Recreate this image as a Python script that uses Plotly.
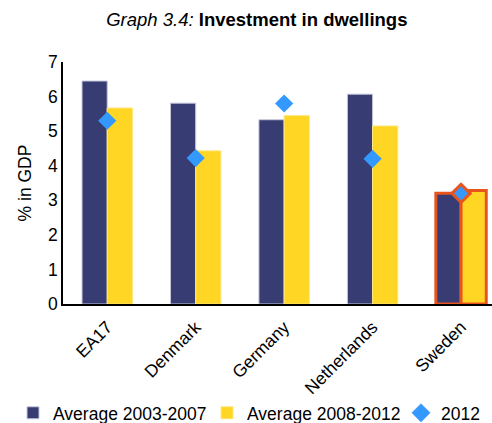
import plotly.graph_objects as go

categories = ["EA17", "Denmark", "Germany", "Netherlands", "Sweden"]
avg_2003_2007 = [6.45, 5.81, 5.33, 6.07, 3.2]
avg_2008_2012 = [5.67, 4.43, 5.45, 5.15, 3.28]
val_2012 = [5.3, 4.22, 5.8, 4.2, 3.2]

navy = "#373D73"
yellow = "#FFD624"
blue = "#3399FF"
orange = "#E8541E"

hl = [c == "Sweden" for c in categories]
fnt = "Liberation Sans, Arial, sans-serif"
fs = 17.5

fig = go.Figure()
fig.add_trace(go.Bar(
    x=categories, y=avg_2003_2007, name="Average 2003-2007", legend="legend",
    marker=dict(color=navy,
                line=dict(color=[orange if h else "#C8C8DC" for h in hl],
                          width=[3 if h else 1 for h in hl])),
))
fig.add_trace(go.Bar(
    x=categories, y=avg_2008_2012, name="Average 2008-2012", legend="legend2",
    marker=dict(color=yellow,
                line=dict(color=[orange if h else "#FFE680" for h in hl],
                          width=[3 if h else 1 for h in hl])),
))
fig.add_trace(go.Scatter(
    x=categories, y=val_2012, name="2012", mode="markers", legend="legend3",
    marker=dict(symbol="diamond", size=14, color=blue,
                line=dict(color=[orange if h else blue for h in hl],
                          width=[3 if h else 0 for h in hl])),
))

leg_common = dict(orientation="h", xanchor="left", y=-0.450, yanchor="middle",
                  font=dict(size=fs), itemwidth=30, bgcolor="rgba(0,0,0,0)")

fig.update_layout(
    width=492, height=423,
    margin=dict(l=63, r=0, t=62, b=119, autoexpand=False),
    paper_bgcolor="white", plot_bgcolor="white",
    barmode="group", bargap=0.43, bargroupgap=0,
    font=dict(family=fnt, size=fs, color="black"),
    title=dict(text="<i>Graph 3.4:</i> <b>Investment in dwellings</b>",
               x=0.522, xanchor="center", y=0.955, yanchor="middle",
               font=dict(size=18.5, family=fnt)),
    showlegend=True,
    legend=dict(x=(13 - 63) / 429, **leg_common),
    legend2=dict(x=(207 - 63) / 429, **leg_common),
    legend3=dict(x=(401 - 63) / 429, **leg_common),
    xaxis=dict(range=[-0.5, 4.35], showline=True, linecolor="black", linewidth=2,
               tickangle=-45, ticks="", showgrid=False, tickfont=dict(size=fs),
               ticklabelstandoff=4, automargin=False),
    yaxis=dict(range=[0, 7], dtick=1, showline=True, linecolor="black", linewidth=1.5,
               ticks="", showgrid=False, zeroline=False, tickfont=dict(size=fs),
               automargin=False,
               title=dict(text="% in GDP", font=dict(size=fs), standoff=12)),
)

fig.write_html("out.html", config={"displayModeBar": False},
               post_script="document.body.style.margin='0';document.body.style.overflow='hidden';")
